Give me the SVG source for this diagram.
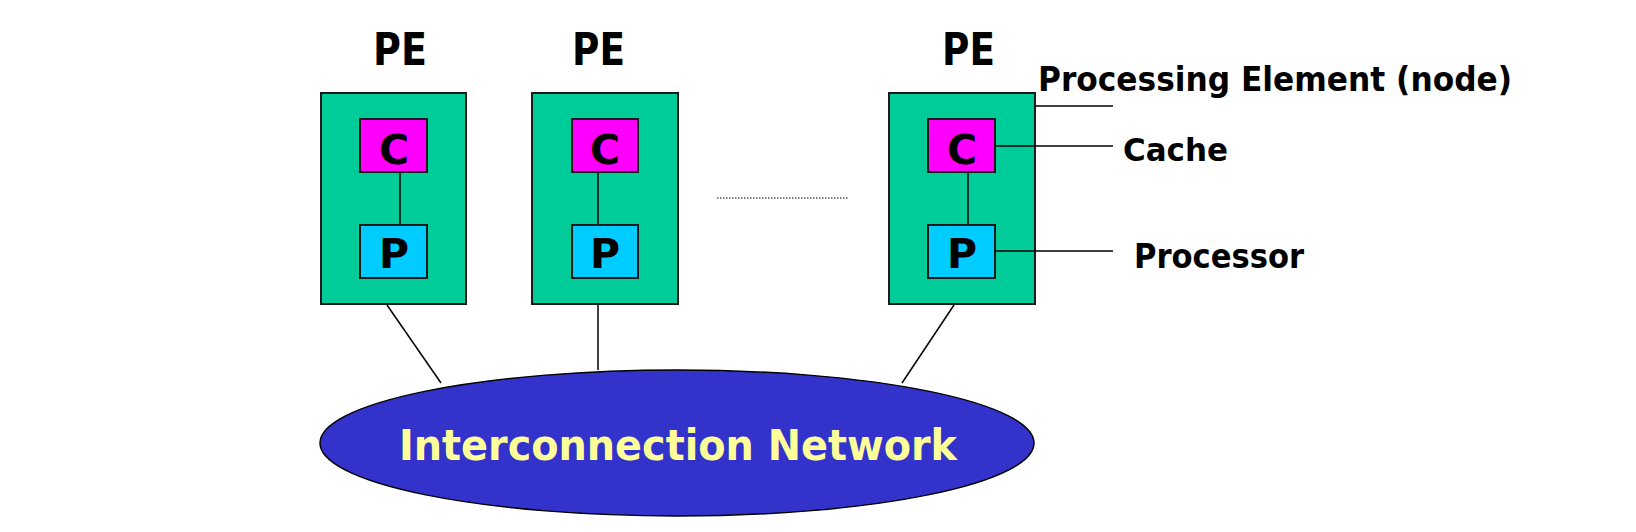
<svg xmlns="http://www.w3.org/2000/svg" width="1636" height="532" viewBox="0 0 1636 532">
<style>
.pe{fill:#00CC99;stroke:#1a1a1a;stroke-width:2}
.c{fill:#FF00FF;stroke:#1a1a1a;stroke-width:2}
.p{fill:#00CCFF;stroke:#1a1a1a;stroke-width:2}
.ln{stroke:#000;stroke-width:1.5;fill:none}
.t{font-family:"DejaVu Sans","Liberation Sans",sans-serif;font-weight:bold;fill:#000}
.big{font-size:44px}
.let{font-size:41px}
.lab{font-size:33px}
.net{fill:#3333CC;stroke:#000;stroke-width:1.5}
.nt{font-family:"DejaVu Sans","Liberation Sans",sans-serif;font-weight:bold;font-size:42px;fill:#FFFF99}
</style>
<rect width="1636" height="532" fill="#fff"/>
<g id="pe1">
<text class="t big" x="373" y="65" textLength="54" lengthAdjust="spacingAndGlyphs">PE</text>
<rect class="pe" x="321" y="93" width="145" height="211"/>
<line class="ln" x1="400" y1="172" x2="400" y2="225"/>
<rect class="c" x="360" y="119" width="67" height="53"/>
<text class="t let" x="394" y="164" text-anchor="middle">C</text>
<rect class="p" x="360" y="225" width="67" height="53"/>
<text class="t let" x="394" y="268" text-anchor="middle">P</text>
</g>
<g id="pe2">
<text class="t big" x="572" y="65" textLength="53" lengthAdjust="spacingAndGlyphs">PE</text>
<rect class="pe" x="532" y="93" width="146" height="211"/>
<line class="ln" x1="598" y1="172" x2="598" y2="225"/>
<rect class="c" x="572" y="119" width="66" height="53"/>
<text class="t let" x="605" y="164" text-anchor="middle">C</text>
<rect class="p" x="572" y="225" width="66" height="53"/>
<text class="t let" x="605" y="268" text-anchor="middle">P</text>
</g>
<g id="pe3">
<text class="t big" x="942" y="65" textLength="53" lengthAdjust="spacingAndGlyphs">PE</text>
<rect class="pe" x="889" y="93" width="146" height="211"/>
<line class="ln" x1="968" y1="172" x2="968" y2="225"/>
<rect class="c" x="928" y="119" width="67" height="53"/>
<text class="t let" x="962" y="164" text-anchor="middle">C</text>
<rect class="p" x="928" y="225" width="67" height="53"/>
<text class="t let" x="962" y="268" text-anchor="middle">P</text>
</g>
<g id="label-pe">
<text class="t lab" x="1038" y="91" textLength="474" lengthAdjust="spacingAndGlyphs">Processing Element (node)</text>
</g>
<g id="label-cache">
<text class="t" style="font-size:32px" x="1123" y="161" textLength="105" lengthAdjust="spacingAndGlyphs">Cache</text>
</g>
<g id="label-processor">
<text class="t lab" x="1134" y="268" textLength="170" lengthAdjust="spacingAndGlyphs">Processor</text>
</g>
<g id="network">
<ellipse class="net" cx="677" cy="443" rx="357" ry="73"/>
<text class="nt" x="399" y="460" textLength="558" lengthAdjust="spacingAndGlyphs">Interconnection Network</text>
</g>
<g id="connectors">
<line class="ln" x1="387" y1="305" x2="441" y2="383"/>
<line class="ln" x1="598" y1="305" x2="598" y2="370"/>
<line class="ln" x1="954" y1="305" x2="902" y2="383"/>
<line x1="717" y1="198" x2="849" y2="198" stroke="#000" stroke-width="1" stroke-dasharray="1.5 1.5"/>
<line class="ln" x1="1035" y1="106" x2="1113" y2="106"/>
<line class="ln" x1="995" y1="146" x2="1113" y2="146"/>
<line class="ln" x1="995" y1="251" x2="1113" y2="251"/>
</g>
</svg>
